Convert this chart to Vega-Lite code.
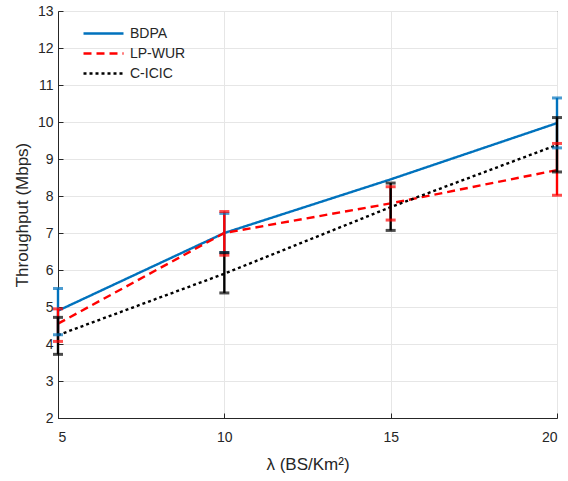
{
  "$schema": "https://vega.github.io/schema/vega-lite/v6.json",
  "width": 499,
  "height": 407,
  "autosize": {"type": "none"},
  "padding": {"left": 58, "top": 11, "right": 11, "bottom": 63},
  "background": "white",
  "config": {
    "font": "Liberation Sans",
    "view": {"stroke": "#262626", "strokeWidth": 1}
  },
  "data": {
    "values": [
      {"x": 5, "y": 4.9, "lo": 4.25, "hi": 5.5, "series": "BDPA"},
      {"x": 10, "y": 7.0, "lo": 6.47, "hi": 7.53, "series": "BDPA"},
      {"x": 15, "y": 8.45, "lo": null, "hi": null, "series": "BDPA"},
      {"x": 20, "y": 9.97, "lo": 9.3, "hi": 10.65, "series": "BDPA"},
      {"x": 5, "y": 4.55, "lo": 4.07, "hi": 4.95, "series": "LP-WUR"},
      {"x": 10, "y": 7.0, "lo": 6.4, "hi": 7.58, "series": "LP-WUR"},
      {"x": 15, "y": 7.8, "lo": 7.35, "hi": 8.25, "series": "LP-WUR"},
      {"x": 20, "y": 8.7, "lo": 8.02, "hi": 9.42, "series": "LP-WUR"},
      {"x": 5, "y": 4.24, "lo": 3.72, "hi": 4.72, "series": "C-ICIC"},
      {"x": 10, "y": 5.9, "lo": 5.38, "hi": 6.47, "series": "C-ICIC"},
      {"x": 15, "y": 7.7, "lo": 7.07, "hi": 8.35, "series": "C-ICIC"},
      {"x": 20, "y": 9.38, "lo": 8.65, "hi": 10.12, "series": "C-ICIC"}
    ]
  },
  "encoding": {
    "x": {
      "field": "x",
      "type": "quantitative",
      "scale": {"domain": [5, 20], "nice": false, "zero": false},
      "axis": {"values": [5, 10, 15, 20], "title": "λ (BS/Km²)", "tickSize": -5, "labelPadding": 17, "titlePadding": 12,
        "domainColor": "#262626", "gridColor": "#e6e6e6", "tickColor": "#262626", "labelColor": "#262626", "titleColor": "#262626",
        "labelFontSize": 14, "titleFontSize": 17, "titleFontWeight": "normal"}
    }
  },
  "layer": [
    {
      "mark": {"type": "line", "strokeCap": "butt"},
      "encoding": {
        "y": {
          "field": "y",
          "type": "quantitative",
          "scale": {"domain": [2, 13], "nice": false, "zero": false},
          "axis": {"values": [2,3,4,5,6,7,8,9,10,11,12,13], "title": "Throughput (Mbps)", "tickSize": -5, "labelPadding": 10, "titlePadding": 6,
            "labelOverlap": false, "labelFlush": false,
            "domainColor": "#262626", "gridColor": "#e6e6e6", "tickColor": "#262626", "labelColor": "#262626", "titleColor": "#262626",
            "labelFontSize": 14, "titleFontSize": 17, "titleFontWeight": "normal"}
        },
        "color": {
          "field": "series",
          "type": "nominal",
          "sort": ["BDPA", "LP-WUR", "C-ICIC"],
          "scale": {"domain": ["BDPA", "LP-WUR", "C-ICIC"], "range": ["#0072BD", "#FF0000", "#000000"]},
          "legend": {
            "title": null,
            "orient": "none",
            "legendX": 34,
            "legendY": 11,
            "symbolType": "M-2,0H2",
            "symbolSize": 400,
            "symbolStrokeWidth": 2.5,
            "labelFontSize": 14,
            "labelColor": "#262626",
            "rowPadding": 1,
            "labelOffset": 15
          }
        },
        "strokeDash": {
          "field": "series",
          "type": "nominal",
          "sort": ["BDPA", "LP-WUR", "C-ICIC"],
          "scale": {"domain": ["BDPA", "LP-WUR", "C-ICIC"], "range": [[1, 0], [8, 5], [3, 3]]},
          "legend": {
            "title": null,
            "orient": "none",
            "legendX": 34,
            "legendY": 11,
            "symbolType": "M-2,0H2",
            "symbolSize": 400,
            "symbolStrokeWidth": 2.5,
            "labelFontSize": 14,
            "labelColor": "#262626",
            "rowPadding": 1,
            "labelOffset": 15
          }
        },
        "strokeWidth": {
          "field": "series",
          "type": "nominal",
          "scale": {"domain": ["BDPA", "LP-WUR", "C-ICIC"], "range": [2.4, 2.4, 4]},
          "legend": null
        }
      }
    },
    {
      "mark": {"type": "rule"},
      "encoding": {
        "y": {"field": "lo", "type": "quantitative",
          "axis": {"values": [2,3,4,5,6,7,8,9,10,11,12,13], "title": "Throughput (Mbps)", "tickSize": -5, "labelPadding": 10, "titlePadding": 6,
            "labelOverlap": false, "labelFlush": false,
            "domainColor": "#262626", "gridColor": "#e6e6e6", "tickColor": "#262626", "labelColor": "#262626", "titleColor": "#262626",
            "labelFontSize": 14, "titleFontSize": 17, "titleFontWeight": "normal"}},
        "y2": {"field": "hi"},
        "color": {"field": "series", "type": "nominal", "legend": null},
        "strokeWidth": {
          "field": "series",
          "type": "nominal",
          "scale": {"domain": ["BDPA", "LP-WUR", "C-ICIC"], "range": [2.4, 2.4, 4]},
          "legend": null
        }
      }
    },
    {
      "mark": {"type": "tick", "orient": "horizontal", "size": 10, "thickness": 3},
      "encoding": {
        "y": {"field": "lo", "type": "quantitative",
          "axis": {"values": [2,3,4,5,6,7,8,9,10,11,12,13], "title": "Throughput (Mbps)", "tickSize": -5, "labelPadding": 10, "titlePadding": 6,
            "labelOverlap": false, "labelFlush": false,
            "domainColor": "#262626", "gridColor": "#e6e6e6", "tickColor": "#262626", "labelColor": "#262626", "titleColor": "#262626",
            "labelFontSize": 14, "titleFontSize": 17, "titleFontWeight": "normal"}},
        "color": {"field": "series", "type": "nominal", "legend": null}
      }
    },
    {
      "mark": {"type": "tick", "orient": "horizontal", "size": 10, "thickness": 3},
      "encoding": {
        "y": {"field": "hi", "type": "quantitative",
          "axis": {"values": [2,3,4,5,6,7,8,9,10,11,12,13], "title": "Throughput (Mbps)", "tickSize": -5, "labelPadding": 10, "titlePadding": 6,
            "labelOverlap": false, "labelFlush": false,
            "domainColor": "#262626", "gridColor": "#e6e6e6", "tickColor": "#262626", "labelColor": "#262626", "titleColor": "#262626",
            "labelFontSize": 14, "titleFontSize": 17, "titleFontWeight": "normal"}},
        "color": {"field": "series", "type": "nominal", "legend": null}
      }
    }
  ]
}
